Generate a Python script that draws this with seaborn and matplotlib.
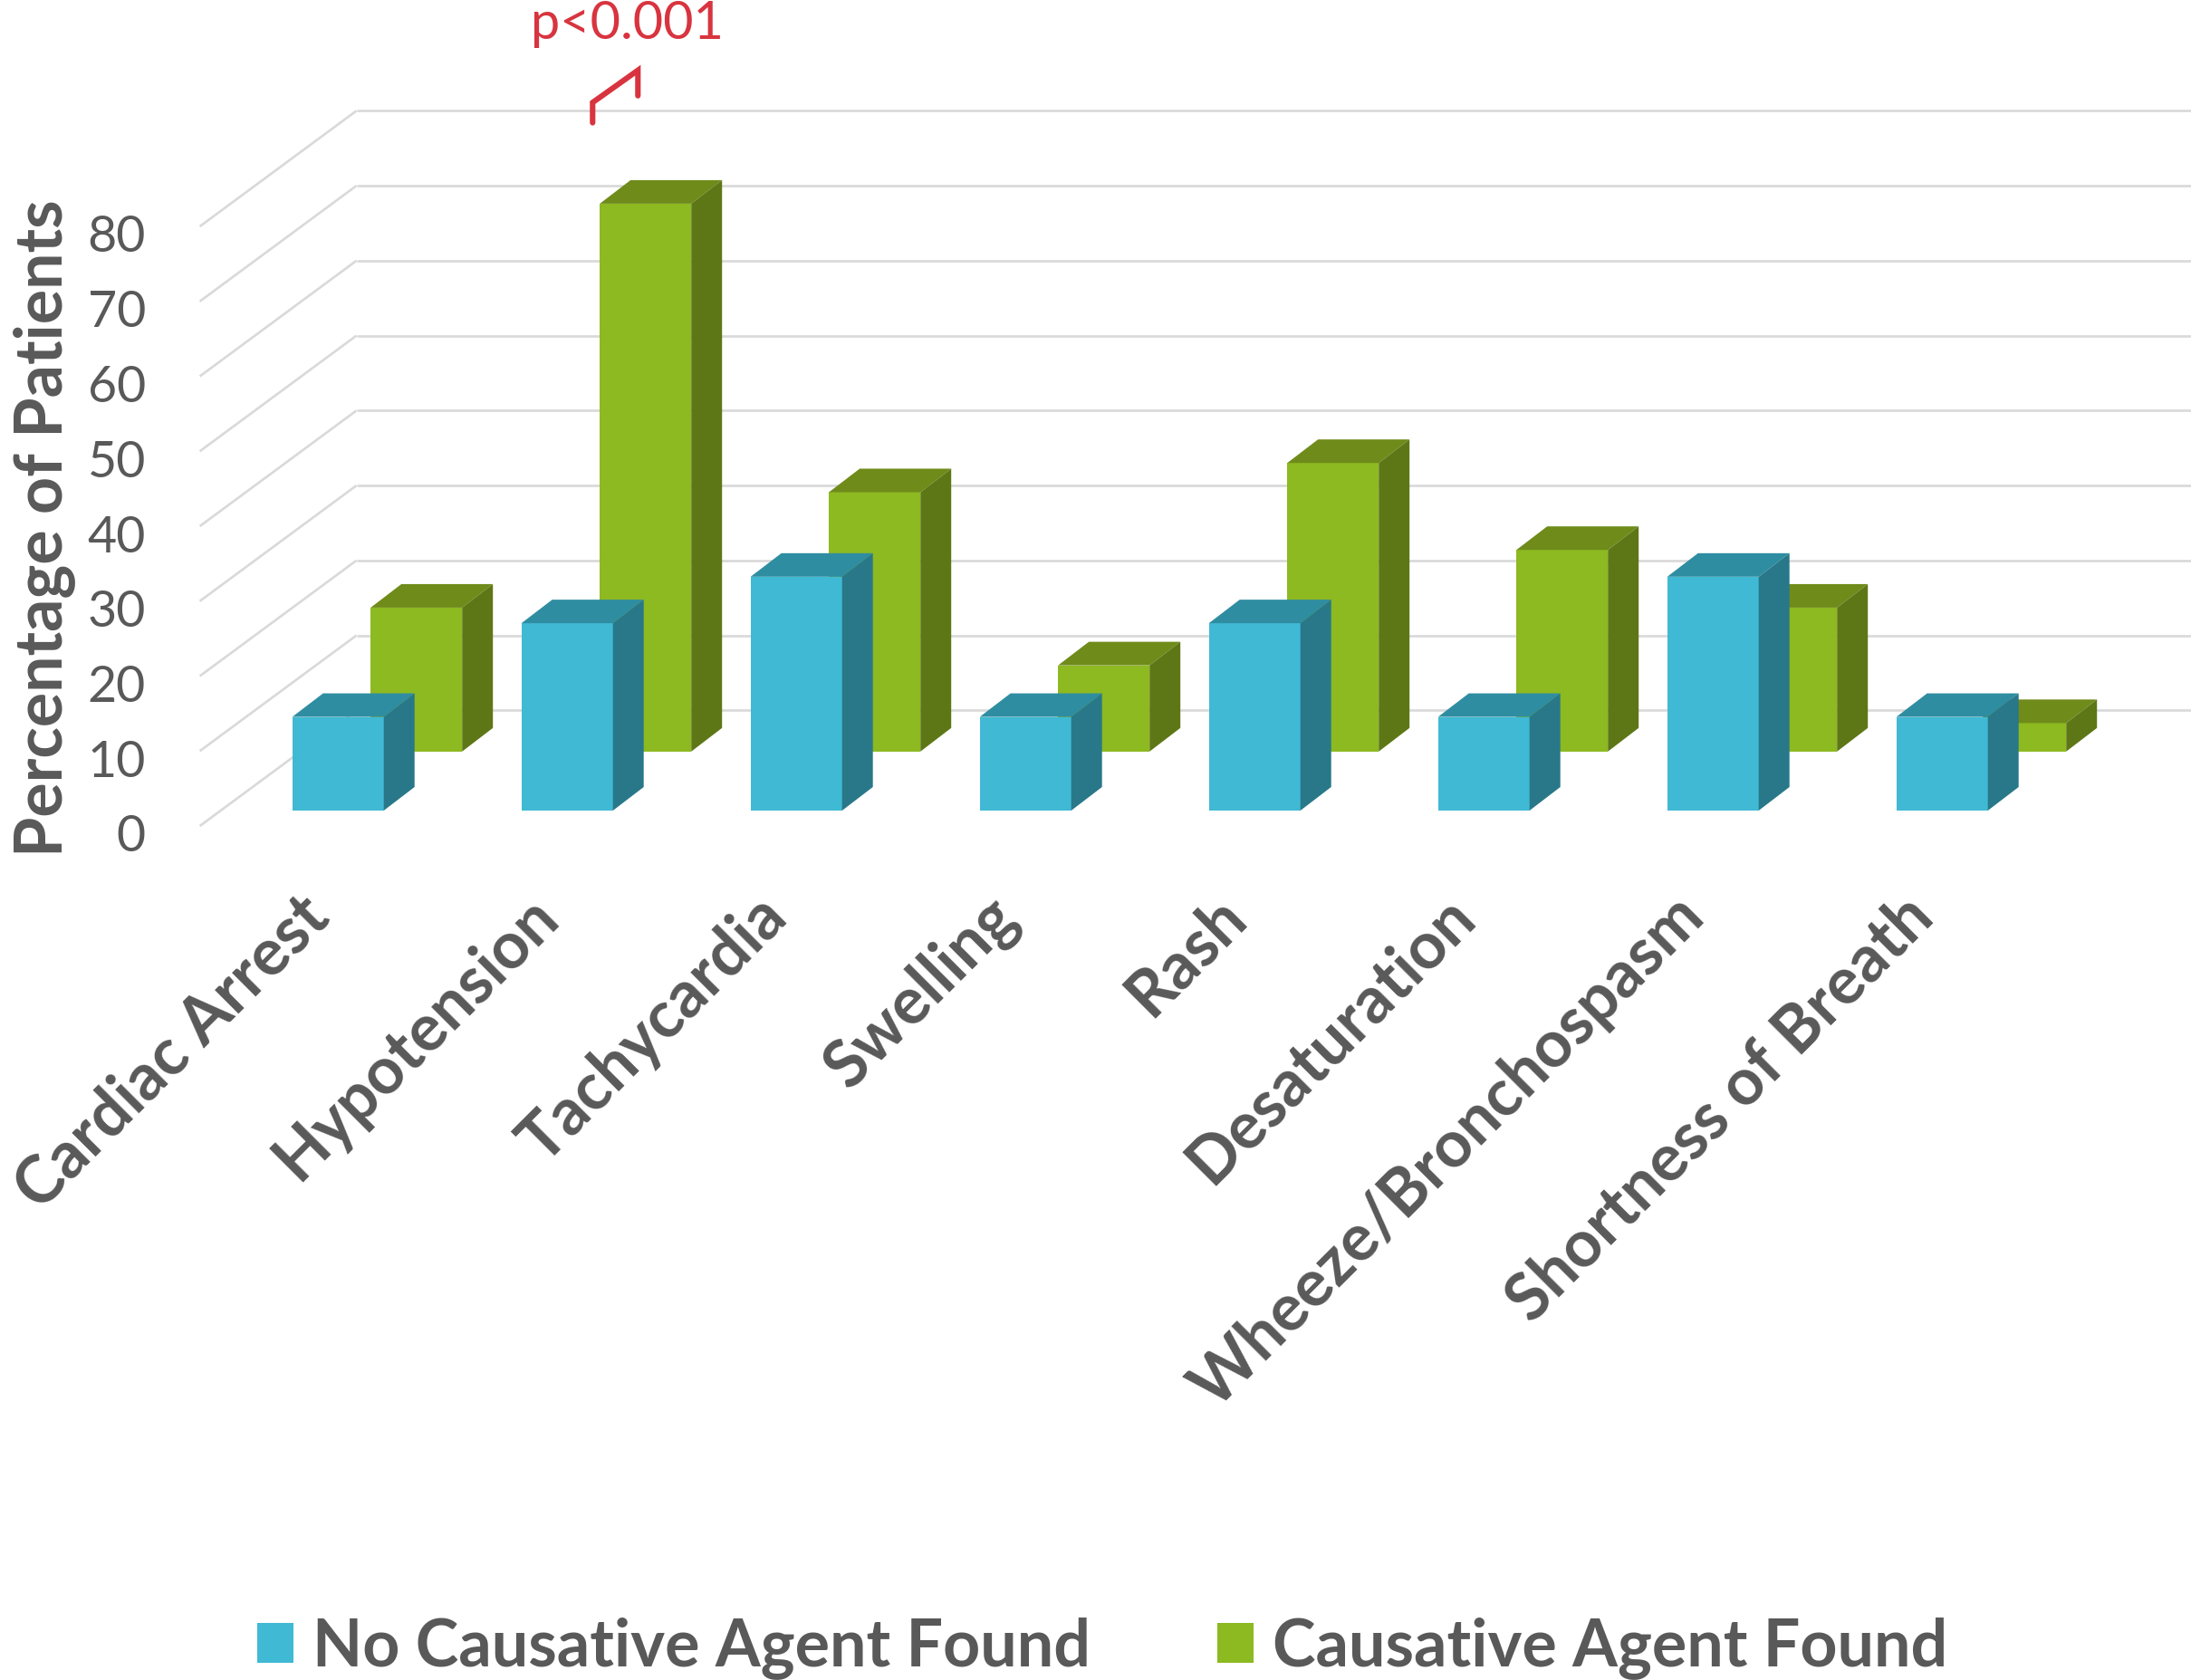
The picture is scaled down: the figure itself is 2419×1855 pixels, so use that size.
import numpy as np
import matplotlib
matplotlib.use("Agg")
import matplotlib.pyplot as plt
from matplotlib.patches import Polygon
from matplotlib.transforms import ScaledTranslation
import seaborn as sns

# Share of patients (%) showing each presenting feature
categories = ["Cardiac Arrest", "Hypotension", "Tachycardia", "Swelling", "Rash",
              "Desaturation", "Wheeze/Bronchospasm", "Shortness of Breath"]
no_agent = [12.5, 25.0, 31.2, 12.5, 25.0, 12.5, 31.2, 12.5]
agent = [19.2, 73.1, 34.6, 11.5, 38.5, 26.9, 19.2, 3.8]
y_ticks = [0, 10, 20, 30, 40, 50, 60, 70, 80]

TEXT = "#595959"
GRID = "#D9D9D9"
RED = "#D8343F"
BLUE = ("#40B9D4", "#2F8DA2", "#287889")    # front, top, side
GREEN = ("#8DB921", "#6F8B1A", "#5E7716")

W, H = 2419, 1855
PX_X = 253.0      # pixels per category
PX_Y = 8.275      # pixels per percentage point
FLOOR = 912.0     # pixel row of the value 0 on the front edge
LEFT = 220.6      # pixel column where the gridlines start

sns.set_theme(style="white")
plt.rcParams["font.family"] = ["Lato", "DejaVu Sans"]
fig = plt.figure(figsize=(W / 100, H / 100), dpi=100, facecolor="white")
ax = fig.add_axes([LEFT / W, 1 - FLOOR / H, (W - LEFT) / W, FLOOR / H])

pos = np.arange(len(categories))
bar_w = 101 / PX_X
green_dx = 86.5 / PX_X
green_base = (FLOOR - 829.8) / PX_Y
blue_base = (FLOOR - 895) / PX_Y
depth_x, depth_y = 34 / PX_X, 26 / PX_Y      # bar depth
wall_x, wall_y = 173 / PX_X, 127.7 / PX_Y    # front edge to back wall

x0 = (LEFT - 373.2) / PX_X
x1 = (W - 373.2) / PX_X

# Gridlines: a diagonal on the side wall, a horizontal on the back wall
for v in y_ticks:
    ax.plot([x0, x0 + wall_x], [v, v + wall_y], color=GRID, lw=1.9, zorder=1, clip_on=False,
            solid_capstyle="butt")
    ax.plot([x0 + wall_x, x1], [v + wall_y, v + wall_y], color=GRID, lw=1.9, zorder=1,
            solid_capstyle="butt")

sns.barplot(x=pos + green_dx, y=agent, native_scale=True, width=bar_w, color=GREEN[0],
            saturation=1, bottom=green_base, zorder=3, linewidth=0,
            label="Causative Agent Found", ax=ax)
sns.barplot(x=pos, y=no_agent, native_scale=True, width=bar_w, color=BLUE[0],
            saturation=1, bottom=blue_base, zorder=5, linewidth=0,
            label="No Causative Agent Found", ax=ax)


def extrude(rects, shades, z):
    """Add the top and side faces to each front-facing rectangle."""
    for r in rects:
        xa, xb = r.get_x(), r.get_x() + r.get_width()
        ya, yb = r.get_y(), r.get_y() + r.get_height()
        ax.add_patch(Polygon([(xa, yb), (xb, yb), (xb + depth_x, yb + depth_y), (xa + depth_x, yb + depth_y)],
                             closed=True, fc=shades[1], ec="none", zorder=z))
        ax.add_patch(Polygon([(xb, ya), (xb + depth_x, ya + depth_y), (xb + depth_x, yb + depth_y), (xb, yb)],
                             closed=True, fc=shades[2], ec="none", zorder=z))


green_bars, blue_bars = ax.containers[0], ax.containers[1]
extrude(green_bars, GREEN, 3)
extrude(blue_bars, BLUE, 5)

ax.set_xlim(x0, x1)
ax.set_ylim(0, FLOOR / PX_Y)
sns.despine(ax=ax, left=True, bottom=True, top=True, right=True)
ax.set_xlabel("")
ax.set_ylabel("")

ax.set_xticks(pos)
ax.set_xticklabels(categories, rotation=45, ha="right", va="top", rotation_mode="anchor",
                   fontsize=51.5, fontweight="bold", color=TEXT)
ax.tick_params(axis="x", length=0, pad=50)
xshift = ScaledTranslation(-45 / 100, 4 / 100, fig.dpi_scale_trans)
for lab in ax.get_xticklabels():
    lab.set_transform(lab.get_transform() + xshift)

ax.set_yticks(y_ticks)
ax.set_yticklabels(y_ticks, fontsize=40, color=TEXT)
ax.tick_params(axis="y", length=0, pad=43)
shift = ScaledTranslation(0, -8 / 100, fig.dpi_scale_trans)
for lab in ax.get_yticklabels():
    lab.set_transform(lab.get_transform() + shift)

fig.text(49 / W, 1 - 583 / H, "Percentage of Patients", rotation=90, ha="center", va="center",
         fontsize=51.6, fontweight="bold", color=TEXT)

# Significance bracket above the Hypotension pair
bx = pos[1] + 0.111
bw = 50 / PX_X
top = agent[1] + green_base
bracket = [(bx, top + 10.8), (bx, top + 13.5), (bx + bw, top + 17.8), (bx + bw, top + 14.4)]
ax.plot(*zip(*bracket), color=RED, lw=4.4, zorder=6, clip_on=False, solid_joinstyle="miter")
fig.text(693 / W, 1 - 43 / H, "p<0.001", ha="center", va="baseline", fontsize=41.5, color=RED)

handles, labels = ax.get_legend_handles_labels()
if ax.get_legend() is not None:
    ax.get_legend().remove()
order = [labels.index("No Causative Agent Found"), labels.index("Causative Agent Found")]
fig.legend([handles[i] for i in order], [labels[i] for i in order], ncols=2, loc="center",
           bbox_to_anchor=(1217 / W, 1 - 1820 / H), frameon=False,
           labelcolor=TEXT, prop={"weight": "bold", "size": 51.7, "family": "Lato"},
           handlelength=0.56, handleheight=0.56, handletextpad=0.29, columnspacing=1.94)

fig.savefig("out.png", dpi=100, facecolor="white")
